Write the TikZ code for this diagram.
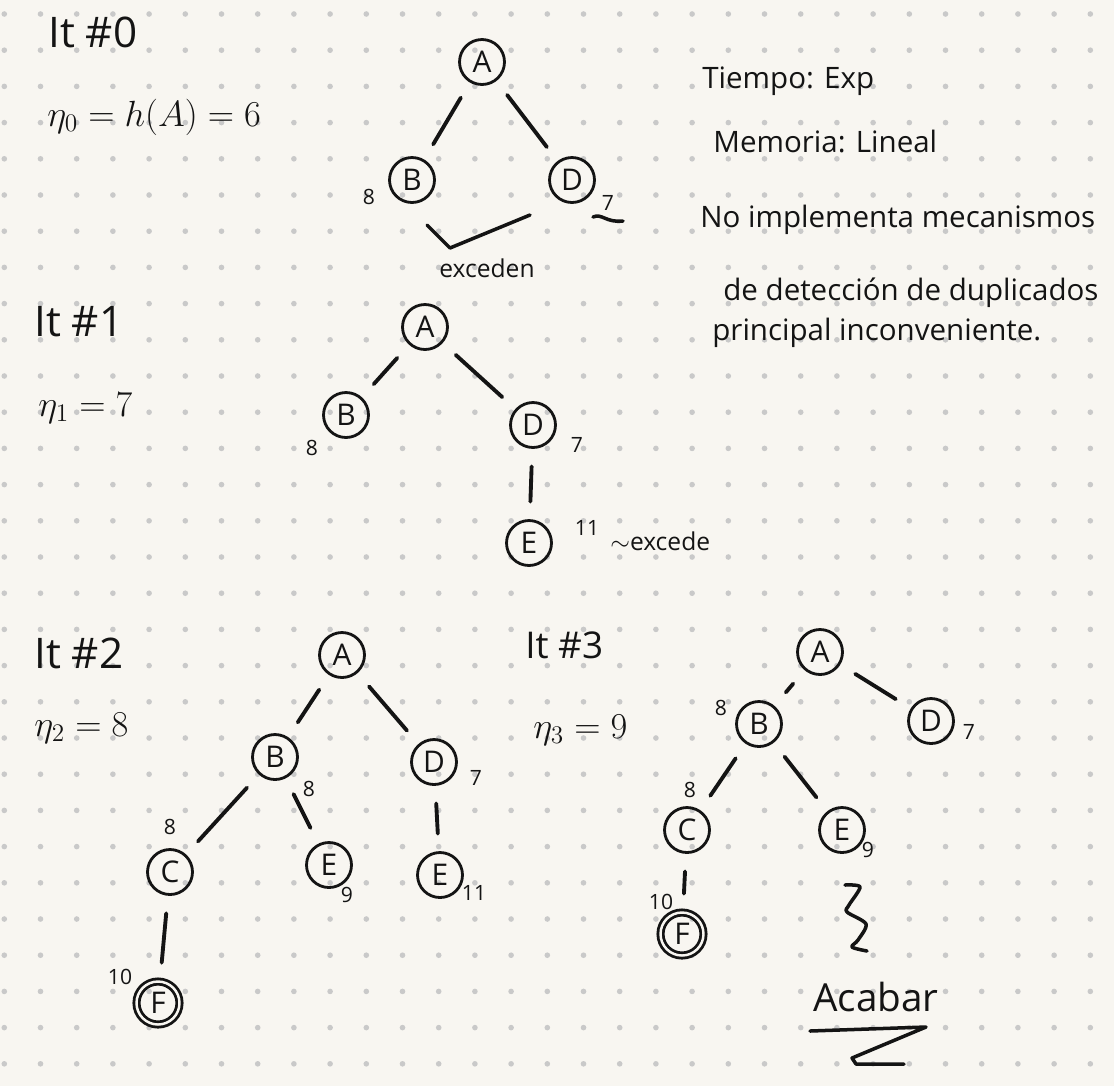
\documentclass[tikz,border=0pt]{standalone}
\usepackage{fontspec}
\setmainfont{Open Sans}
\definecolor{paper}{HTML}{F8F6F1}
\definecolor{ink}{HTML}{141414}
\definecolor{dotgray}{HTML}{C9C9C9}
\tikzset{
    vertex/.style={circle,draw=ink,line width=1.6pt,minimum size=0.9cm,inner sep=0pt,
        text=ink,font=\fontsize{17}{17}\selectfont},
    goal/.style={vertex,double=paper,double distance=1.4pt,minimum size=0.86cm},
    edge/.style={draw=ink,line width=2.2pt,line cap=round,shorten <=10pt,shorten >=10pt},
    stroke/.style={draw=ink,line width=2pt,line cap=round,line join=round},
    cost/.style={text=ink,inner sep=0pt,font=\fontsize{12}{12}\selectfont},
    remark/.style={text=ink,inner sep=0pt,font=\fontsize{14}{14}\selectfont},
    heading/.style={text=ink,anchor=base west,inner sep=0pt,font=\fontsize{24}{28}\selectfont},
    formula/.style={heading,font=\fontsize{21}{24}\selectfont},
    note/.style={text=ink,anchor=base west,inner sep=0pt,font=\fontsize{16.8}{20}\selectfont}
}
\begin{document}
\begin{tikzpicture}[x=0.02cm,y=-0.02cm]
    % Draw the dotted paper
    \fill[paper] (0,0) rectangle (1114,1086);
    \useasboundingbox (0,0) rectangle (1114,1086);
    \foreach \i in {0,...,30} {
        \foreach \j in {0,...,29} {
            \fill[dotgray] (4.3+\i*36.2,14+\j*36.2) circle (1.6pt);
        }
    }

    % Add the side notes
    \node[note] (tiempo) at (702,88) {Tiempo: Exp};
    \node[note] (memoria) at (713,152) {Memoria: Lineal};
    \node[note] (noimpl) at (700,227) {No implementa mecanismos};
    \node[note] (deteccion) at (723,300) {de detección de duplicados};
    \node[note] (principal) at (712,340) {principal inconveniente.};

    % Iteration 0
    \node[heading] (it0) at (48,47) {It \#0};
    \node[formula] (eta0) at (47,126) {$\eta_0 = h(A) = 6$};
    \foreach \name/\x/\y/\txt in {a0/482/62/A, b0/412/180/B, d0/572/180/D} {
        \node[vertex] (\name) at (\x,\y) {\txt};
    }
    \draw[edge] (a0) -- (b0);
    \draw[edge] (a0) -- (d0);
    \node[cost] (cb0) at (369,197) {8};
    \node[cost] (cd0) at (608,203) {7};
    \draw[stroke] (593,217) .. controls (602,213) and (606,223) .. (623,221);
    \draw[stroke] (427,225) -- (450,248) -- (530,215);
    \node[remark] (exc0) at (487,268) {exceden};

    % Iteration 1
    \node[heading] (it1) at (34,336) {It \#1};
    \node[formula] (eta1) at (38,416) {$\eta_1 = 7$};
    \foreach \name/\x/\y/\txt in {a1/425/327/A, b1/346/415/B, d1/533/425/D, e1/529/543/E} {
        \node[vertex] (\name) at (\x,\y) {\txt};
    }
    \draw[edge] (a1) -- (b1);
    \draw[edge] (a1) -- (d1);
    \draw[edge] (d1) -- (e1);
    \node[cost] (cb1) at (312,448) {8};
    \node[cost] (cd1) at (577,445) {7};
    \node[cost] (ce1) at (587,528) {11};
    \node[remark,anchor=base west] (exc1) at (610,550) {$\sim$excede};

    % Iteration 2
    \node[heading] (it2) at (34,668) {It \#2};
    \node[formula] (eta2) at (34,736) {$\eta_2 = 8$};
    \foreach \name/\x/\y/\txt in {a2/342/655/A, b2/275/757/B, d2/434/762/D,
                                   c2/170/872/C, e2/329/865/E, f2/440/875/E} {
        \node[vertex] (\name) at (\x,\y) {\txt};
    }
    \node[goal] (g2) at (158,1003) {F};
    \draw[edge] (a2) -- (b2);
    \draw[edge] (a2) -- (d2);
    \draw[edge] (b2) -- (c2);
    \draw[edge] (b2) -- (e2);
    \draw[edge] (d2) -- (f2);
    \draw[edge] (c2) -- (g2);
    \foreach \x/\y/\val in {309/789/8, 170/827/8, 476/778/7, 347/895/9, 474/893/11, 120/977/10} {
        \node[cost] at (\x,\y) {\val};
    }

    % Iteration 3
    \node[heading,font=\fontsize{21}{24}\selectfont] (it3) at (525,658) {It \#3};
    \node[formula] (eta3) at (533,738) {$\eta_3 = 9$};
    \foreach \name/\x/\y/\txt in {a3/820/652/A, b3/759/724/B, d3/931/721/D,
                                   c3/687/830/C, e3/842/830/E} {
        \node[vertex] (\name) at (\x,\y) {\txt};
    }
    \node[goal] (f3) at (682,934) {F};
    \draw[edge] (a3) -- (b3);
    \draw[edge] (a3) -- (d3);
    \draw[edge] (b3) -- (c3);
    \draw[edge] (b3) -- (e3);
    \draw[edge] (c3) -- (f3);
    \foreach \x/\y/\val in {721/708/8, 969/732/7, 690/790/8, 868/850/9, 661/902/10} {
        \node[cost] at (\x,\y) {\val};
    }

    % Add the ending mark
    \draw[stroke] plot[smooth] coordinates {(845,885) (860,887) (849,905) (847,912)
        (866,924) (858,940) (852,947) (867,951)};
    \node[heading,font=\fontsize{22}{26}\selectfont] (acabar) at (813,1011) {Acabar};
    \draw[stroke] (810,1031) -- (926,1027) -- (852,1058) -- (856,1064) -- (904,1064);
\end{tikzpicture}
\end{document}
